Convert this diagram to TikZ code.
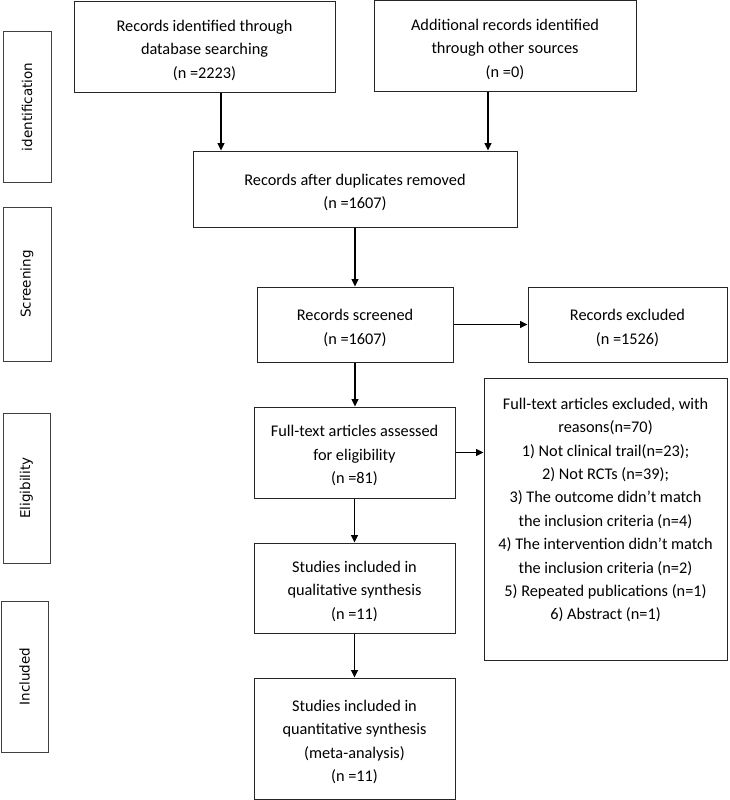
\documentclass[tikz,border=0pt]{standalone}
\usepackage{fontspec}
\setmainfont{Carlito}
\newfontfamily\sidefont{DejaVu Sans}
\usetikzlibrary{arrows.meta,calc}
\newcommand{\topst}{\rule{0pt}{18pt}}
\begin{document}
\begin{tikzpicture}[x=1pt,y=-1pt,
  box/.style={draw=black!85,line width=1pt,inner sep=0pt,align=center,font=\fontsize{16.3}{23.4}\selectfont},
  sidebox/.style={draw=black!75,line width=1pt,inner sep=0pt,minimum width=48pt},
  sidetext/.style={rotate=90,font=\sidefont\fontsize{13.5}{16}\selectfont},
  arr/.style={line width=1.2pt,-{Triangle[length=7.5pt,width=7pt]}}]
\useasboundingbox[fill=white] (0,0) rectangle (729,800);
% side boxes
\node[sidebox,minimum height=150pt] (ident) at (27,107) {};
\node[sidetext] (identt) at (ident.center) {identification};
\node[sidebox,minimum height=154pt] (screen) at (27,284) {};
\node[sidetext] (screent) at (screen.center) {Screening};
\node[sidebox,minimum width=47pt,minimum height=150pt] (elig) at (26.5,488) {};
\node[sidetext] (eligt) at (elig.center) {Eligibility};
\node[sidebox,minimum width=47pt,minimum height=151pt] (incl) at (24.5,676.5) {};
\node[sidetext] (inclt) at (incl.center) {Included};
% main boxes
\node[box,minimum width=261pt,minimum height=90pt] (b1) at (204.5,47) {\topst Records identified through\\database searching\\(n =2223)};
\node[box,minimum width=262pt,minimum height=90pt] (b2) at (505,46) {\topst Additional records identified\\through other sources\\(n =0)};
\node[box,minimum width=324pt,minimum height=76pt] (dup) at (355,189) {\topst Records after duplicates removed\\(n =1607)};
\node[box,minimum width=196pt,minimum height=75pt] (scr) at (355,324.5) {\topst Records screened\\(n =1607)};
\node[box,minimum width=199pt,minimum height=75pt] (exc) at (627.5,324.5) {\topst Records excluded\\(n =1526)};
\node[box,minimum width=201pt,minimum height=91pt] (full) at (354.5,452.5) {\topst Full-text articles assessed\\for eligibility\\(n =81)};
\node[box,minimum width=243pt,minimum height=282pt] (reas) at (605.5,519) {};
\node[box,draw=none] (reast) at (605.5,510) {Full-text articles excluded, with\\reasons(n=70)\\1) Not clinical trail(n=23);\\2) Not RCTs (n=39);\\3) The outcome didn’t match\\the inclusion criteria (n=4)\\4) The intervention didn’t match\\the inclusion criteria (n=2)\\5) Repeated publications (n=1)\\6) Abstract (n=1)};
\node[box,minimum width=201pt,minimum height=90pt] (qual) at (354.5,588) {\topst Studies included in\\qualitative synthesis\\(n =11)};
\node[box,minimum width=201pt,minimum height=121pt] (quant) at (354.5,738.5) {\topst Studies included in\\quantitative synthesis\\(meta-analysis)\\(n =11)};
% arrows
\draw[arr] ([xshift=16.5pt]b1.south) -- ([xshift=16.5pt]b1.south |- dup.north);
\draw[arr] ([xshift=-17pt]b2.south) -- ([xshift=-17pt]b2.south |- dup.north);
\draw[arr] (dup.south) -- (dup.south |- scr.north);
\draw[arr] (scr.east) -- (exc.west);
\draw[arr] (scr.south) -- (scr.south |- full.north);
\draw[arr] (full.east) -- (full.east -| reas.west);
\draw[arr] (full.south) -- (qual.north);
\draw[arr] (qual.south) -- (quant.north);
\end{tikzpicture}
\end{document}
